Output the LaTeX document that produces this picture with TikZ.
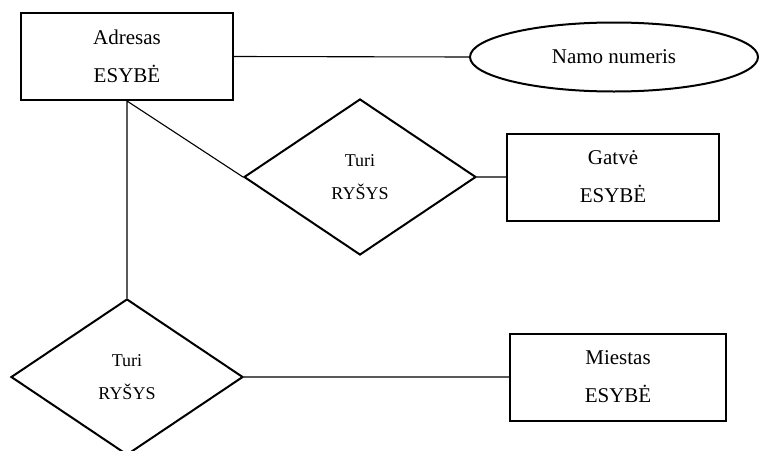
\documentclass[tikz,border=0pt]{standalone}
\usepackage{fontspec}
\setmainfont{Liberation Serif}
\usetikzlibrary{shapes.geometric}
\tikzset{
	esybe/.style={draw, line width=2pt, minimum width=212pt, minimum height=87pt,
		align=center, font=\fontsize{21}{38}\selectfont},
	rysys/.style={draw, diamond, line width=2pt, inner sep=0pt, minimum width=232pt,
		minimum height=156pt, align=center, font=\fontsize{18}{33}\selectfont},
	atributas/.style={draw, ellipse, line width=2pt, inner sep=0pt, minimum width=288pt,
		minimum height=69pt, font=\fontsize{21}{24}\selectfont},
	jungtis/.style={line width=1.1pt}
}
\begin{document}
\begin{tikzpicture}[x=1pt,y=-1pt]
	\useasboundingbox (0,0) rectangle (759,450);
	\node[esybe] 	 (adresas) at (127,56.5) {Adresas\\ESYBĖ};
	\node[atributas] (namas)   at (614,57)   {Namo numeris};
	\node[rysys] 	 (turiA)   at (360,177)  {Turi\\RYŠYS};
	\node[esybe] 	 (gatve)   at (613,177)  {Gatvė\\ESYBĖ};
	\node[rysys] 	 (turiB)   at (127,377)  {Turi\\RYŠYS};
	\node[esybe,minimum width=216pt] (miestas) at (618,377) {Miestas\\ESYBĖ};
	\draw[jungtis]
		  (adresas.east) -- (namas.west)
		  (adresas.south) -- (turiA.west)
		  (turiA.east) -- (gatve.west)
		  (adresas.south) -- (turiB.north)
		  (turiB.east) -- (miestas.west);
\end{tikzpicture}
\end{document}
